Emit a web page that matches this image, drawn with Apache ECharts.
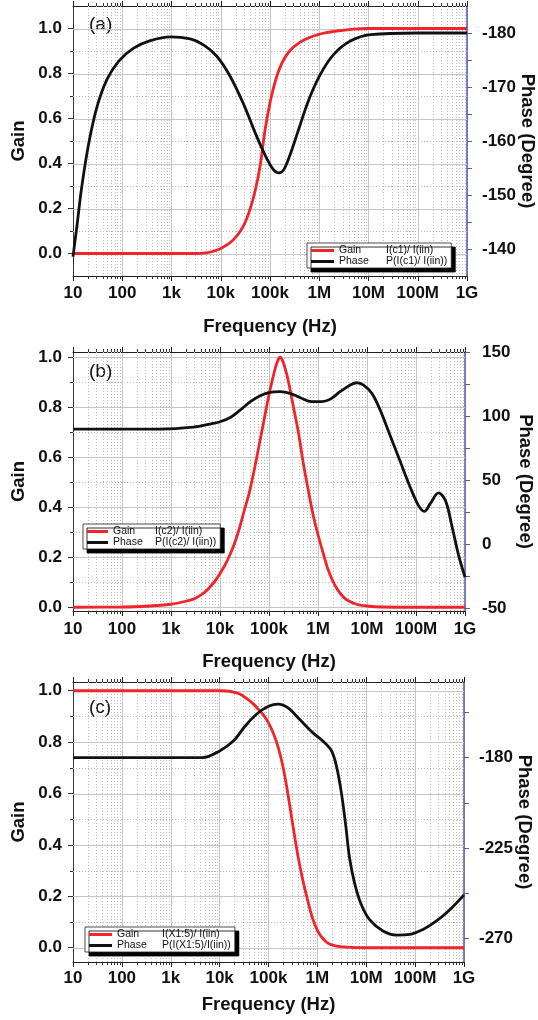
<!DOCTYPE html>
<html><head><meta charset="utf-8">
<script src="https://cdn.jsdelivr.net/npm/echarts@6/dist/echarts.min.js"></script>
<style>html,body{margin:0;padding:0;background:#fff}#c{width:538px;height:1020px}</style>
</head><body><div id="c"></div><script>
// ---- tick labels ----
const freqLabels = ['10','100','1k','10k','100k','1M','10M','100M','1G'];
const gainLabels = [0, 0.2, 0.4, 0.6, 0.8, 1.0];
const gainGrid = [0, 0.1, 0.2, 0.3, 0.4, 0.5, 0.6, 0.7, 0.8, 0.9, 1.0];
const phaseTicksA = [-180,-175,-170,-165,-160,-155,-150,-145,-140];
const phaseLabelsA = [-180,-170,-160,-150,-140];
const phaseTicksB = [-50,-25,0,25,50,75,100,125,150];
const phaseLabelsB = [-50,0,50,100,150];
const phaseTicksC = [-270,-247.5,-225,-202.5,-180,-157.5];
const phaseLabelsC = [-270,-225,-180];
const legendTextA = ['I(c1)/ I(iin)', 'P(I(c1)/ I(iin))'];
const legendTextB = ['I(c2)/ I(iin)', 'P(I(c2)/ I(iin))'];
const legendTextC = ['I(X1:5)/ I(iin)', 'P(I(X1:5)/I(iin))'];

// ---- panel (a) ----
const gainA_freq = [10, 1000, 3160, 5010, 7080, 1e4, 12600, 15800, 20000, 25100, 31600, 39800, 50100, 63100, 79400, 1e5, 126000, 158000, 200000, 251000, 316000, 501000, 794000, 1.26e6, 2.51e6, 5.01e6, 1e7, 1e9];
const gainA = [0, 0, 0, 0.003, 0.01, 0.022, 0.035, 0.05, 0.072, 0.1, 0.14, 0.2, 0.28, 0.39, 0.55, 0.67, 0.76, 0.825, 0.87, 0.9, 0.922, 0.95, 0.968, 0.98, 0.99, 0.997, 1.0, 1.0];
const phaseA_freq = [10, 12, 15.1, 20.9, 30.9, 49, 85, 170, 372, 955, 2400, 4470, 8320, 15500, 29500, 50100, 81300, 117500, 151400, 190500, 257000, 380200, 616600, 1.047e6, 1.95e6, 4.27e6, 1.1e7, 1e8, 1e9];
const phaseA = [-138.6, -144.2, -151.6, -159.6, -166.4, -171.4, -174.8, -177.2, -178.6, -179.3, -178.9, -177.8, -175.7, -172.0, -166.7, -161.5, -157.2, -154.7, -154.1, -154.7, -157.5, -162.1, -167.7, -172.3, -176.0, -178.5, -179.7, -180, -180];

// ---- panel (b) ----
const gainB_freq = [10, 100, 316, 1000, 2000, 3160, 5010, 7940, 1e4, 12600, 15800, 20000, 25100, 31600, 39800, 50100, 63100, 79400, 1e5, 126000, 141000, 158000, 170000, 186000, 214000, 251000, 316000, 398000, 501000, 631000, 794000, 1e6, 1.26e6, 1.58e6, 2e6, 2.51e6, 3.16e6, 3.98e6, 6.31e6, 1e7, 2e7, 1e8, 1e9];
const gainB = [0, 0.001, 0.004, 0.012, 0.024, 0.036, 0.062, 0.105, 0.135, 0.168, 0.208, 0.258, 0.318, 0.39, 0.46, 0.55, 0.65, 0.75, 0.85, 0.935, 0.97, 0.995, 1.0, 0.99, 0.955, 0.9, 0.8, 0.7, 0.576, 0.47, 0.37, 0.29, 0.22, 0.155, 0.105, 0.07, 0.045, 0.028, 0.011, 0.005, 0.001, 0, 0];
const phaseB_freq = [10, 600, 2880, 6310, 1e4, 16200, 25700, 41700, 66100, 104700, 169800, 269200, 436500, 741300, 1.2e6, 1.78e6, 2.82e6, 4.57e6, 6.17e6, 8.51e6, 1.26e7, 1.86e7, 2.95e7, 4.79e7, 7.59e7, 1.12e8, 1.48e8, 1.95e8, 2.88e8, 3.98e8, 5.37e8, 7.41e8, 1e9];
const phaseB = [90, 90, 91.5, 93.9, 95.7, 99.1, 104.8, 111.4, 116.1, 118.7, 119.2, 117.9, 114.5, 111.4, 111.4, 113.4, 119.2, 124.4, 126.2, 124.4, 117.9, 104.8, 85.2, 64.4, 44.8, 30.4, 25.7, 31.7, 40.1, 34.3, 14.8, -8.7, -25.7];

// ---- panel (c) ----
const gainC_freq = [10, 1e4, 15800, 25100, 35500, 50100, 63100, 79400, 1e5, 126000, 158000, 200000, 251000, 316000, 398000, 501000, 631000, 794000, 1e6, 1.26e6, 1.58e6, 2.24e6, 3.98e6, 1e7, 1e9];
const gainC = [1, 1, 0.998, 0.988, 0.97, 0.947, 0.926, 0.905, 0.875, 0.834, 0.78, 0.7, 0.595, 0.475, 0.36, 0.265, 0.185, 0.115, 0.068, 0.038, 0.02, 0.008, 0.002, 0, 0];
const phaseC_freq = [10, 4470, 1e4, 19050, 33100, 57500, 1e5, 158500, 251200, 436500, 812800, 1.41e6, 1.95e6, 2.45e6, 3.09e6, 3.8e6, 4.57e6, 5.89e6, 7.94e6, 1.17e7, 2.24e7, 4.17e7, 7.76e7, 1.45e8, 2.69e8, 5.13e8, 1e9];
const phaseC = [-180, -180, -176.7, -171.8, -164.4, -158.3, -154.5, -153.4, -155.3, -161.1, -167.7, -172.6, -176.7, -184.1, -197.3, -213.7, -230.2, -243.3, -253.2, -260.6, -266.4, -268.3, -268.0, -265.5, -261.4, -255.7, -248.3];

// minor decade gridline positions (2..9 x 10^k)
const minorFreqs = [];
for (let k = 1; k < 9; k++) for (let m = 2; m <= 9; m++) minorFreqs.push(m * Math.pow(10, k));

const FONT = 'Liberation Sans, Arial, sans-serif';
const RED = '#f0242a', BLACK = '#111111', BLUE = '#5a5ab6';
const F_MIN = 10, F_MAX = 1e9;

const panels = [
  {tag:'(a)', tagY:25, top:6, height:270, left:73, width:394, gMin:-0.1, gMax:1.1,
   pMin:-185, pMax:-135, pInv:true, pTicks:phaseTicksA, pLabels:phaseLabelsA,
   gF:gainA_freq, g:gainA, pF:phaseA_freq, p:phaseA, xMargin:9, xGap:41, rMargin:15,
   leg:{left:307, top:243, iw:23, nw:47, text:legendTextA}},
  {tag:'(b)', tagY:372, top:352, height:259, left:73, width:392, gMin:-0.015, gMax:1.021,
   pMin:-52.1, pMax:150.2, pInv:false, pTicks:phaseTicksB, pLabels:phaseLabelsB,
   gF:gainB_freq, g:gainB, pF:phaseB_freq, p:phaseB, xMargin:10, xGap:41, rMargin:17,
   leg:{left:83, top:524, iw:21, nw:42, text:legendTextB}},
  {tag:'(c)', tagY:708, top:682, height:280, left:73, width:391, gMin:-0.0555, gMax:1.034,
   pMin:-281.7, pMax:-142.4, pInv:false, pTicks:phaseTicksC, pLabels:phaseLabelsC,
   gF:gainC_freq, g:gainC, pF:phaseC_freq, p:phaseC, xMargin:8, xGap:33, rMargin:15,
   leg:{left:85, top:927, iw:23, nw:45, text:legendTextC}}
];

const grids = [], xAxes = [], yAxes = [], series = [], legends = [], graphics = [];

function vGridRender(params, api) {
  const cs = params.coordSys;
  const x = Math.round(api.coord([api.value(0), api.value(1)])[0]) + 0.5;
  const t = cs.y, b = cs.y + cs.height;
  return {type:'group', children:[
    {type:'line', shape:{x1:x, y1:t, x2:x, y2:b}, style:{stroke:'#bcbcbc', lineWidth:1, lineDash:[1,2]}},
    {type:'line', shape:{x1:x, y1:b, x2:x, y2:b+3}, style:{stroke:'#333', lineWidth:1}},
    {type:'line', shape:{x1:x, y1:t, x2:x, y2:t-3}, style:{stroke:'#333', lineWidth:1}}
  ]};
}
function hGridRender(params, api) {
  const cs = params.coordSys;
  const v = api.value(1);
  const y = Math.round(api.coord([api.value(0), v])[1]) + 0.5;
  const major = Math.abs(v * 5 - Math.round(v * 5)) < 1e-6;
  const ch = [];
  if (major) {
    ch.push({type:'line', shape:{x1:cs.x, y1:y, x2:cs.x+cs.width, y2:y}, style:{stroke:'#c6c6c6', lineWidth:1}});
  } else {
    ch.push({type:'line', shape:{x1:cs.x, y1:y, x2:cs.x+cs.width, y2:y}, style:{stroke:'#bcbcbc', lineWidth:1, lineDash:[1,2]}});
    ch.push({type:'line', shape:{x1:cs.x-3, y1:y, x2:cs.x, y2:y}, style:{stroke:'#333', lineWidth:1}});
  }
  return {type:'group', children:ch};
}

panels.forEach((P, i) => {
  grids.push({left:P.left, top:P.top, width:P.width, height:P.height, show:false, outerBoundsMode:'none', containLabel:false});
  xAxes.push({type:'log', logBase:10, gridIndex:i, position:'bottom', min:F_MIN, max:F_MAX, splitNumber:8,
    name:'Frequency (Hz)', nameLocation:'middle', nameGap:P.xGap, nameMoveOverlap:false,
    nameTextStyle:{fontFamily:FONT, fontSize:18.5, fontWeight:'bold', color:'#111'},
    axisLine:{show:true, onZero:false, lineStyle:{color:'#222', width:1}},
    axisTick:{show:true, inside:false, length:5, lineStyle:{color:'#222'}},
    axisLabel:{show:true, margin:P.xMargin, fontFamily:FONT, fontSize:17, fontWeight:'bold', color:'#111',
      formatter:(v) => freqLabels[Math.round(Math.log10(v)) - 1]},
    splitLine:{show:true, lineStyle:{color:'#c6c6c6', width:1}},
    minorTick:{show:false}, minorSplitLine:{show:false}});
  xAxes.push({type:'log', logBase:10, gridIndex:i, position:'top', min:F_MIN, max:F_MAX, splitNumber:8,
    axisLine:{show:true, onZero:false, lineStyle:{color:'#222', width:1}},
    axisTick:{show:true, inside:false, length:5, lineStyle:{color:'#222'}},
    axisLabel:{show:false}, splitLine:{show:false}});
  yAxes.push({type:'value', gridIndex:i, position:'left', min:P.gMin, max:P.gMax,
    name:'Gain', nameLocation:'middle', nameGap:45, nameMoveOverlap:false,
    nameTextStyle:{fontFamily:FONT, fontSize:18.5, fontWeight:'bold', color:'#111'},
    axisLine:{show:true, onZero:false, lineStyle:{color:'#333', width:1}},
    axisTick:{show:true, inside:false, length:5, customValues:gainLabels, lineStyle:{color:'#333'}},
    axisLabel:{show:true, margin:11, customValues:gainLabels, fontFamily:FONT, fontSize:17, fontWeight:'bold', color:'#111',
      formatter:(v) => v.toFixed(1)},
    splitLine:{show:false}});
  yAxes.push({type:'value', gridIndex:i, position:'right', min:P.pMin, max:P.pMax, inverse:P.pInv,
    name:'Phase (Degree)', nameLocation:'middle', nameGap:51, nameRotate:-90, nameMoveOverlap:false,
    nameTextStyle:{fontFamily:FONT, fontSize:18.5, fontWeight:'bold', color:'#111'},
    axisLine:{show:true, onZero:false, lineStyle:{color:BLUE, width:1.5}},
    axisTick:{show:true, inside:false, length:5, customValues:P.pTicks, lineStyle:{color:BLUE}},
    axisLabel:{show:true, margin:P.rMargin, customValues:P.pLabels, fontFamily:FONT, fontSize:17, fontWeight:'bold', color:'#111',
      formatter:(v) => String(v)},
    splitLine:{show:false}});

  const xb = 2 * i, yg = 2 * i, yp = 2 * i + 1;
  series.push({type:'custom', name:'vgrid'+i, xAxisIndex:xb, yAxisIndex:yg, silent:true, clip:false, z:1,
    renderItem:vGridRender, data:minorFreqs.map(f => [f, 0])});
  series.push({type:'custom', name:'hgrid'+i, xAxisIndex:xb, yAxisIndex:yg, silent:true, clip:false, z:1,
    renderItem:hGridRender, data:gainGrid.map(v => [F_MIN, v])});
  series.push({type:'line', name:'Gain', xAxisIndex:xb, yAxisIndex:yg, showSymbol:false, smooth:0.3,
    lineStyle:{color:RED, width:2.8}, itemStyle:{color:RED}, z:3,
    data:P.gF.map((f, k) => [f, P.g[k]])});
  series.push({type:'line', name:'Phase', xAxisIndex:xb, yAxisIndex:yp, showSymbol:false, smooth:0.35,
    lineStyle:{color:BLACK, width:2.8}, itemStyle:{color:BLACK}, z:4,
    data:P.pF.map((f, k) => [f, P.p[k]])});

  const L = P.leg;
  legends.push({data:['Gain','Phase'], orient:'vertical', left:L.left, top:L.top, icon:'rect',
    itemWidth:L.iw, itemHeight:3, itemGap:0, padding:[2,4,1,4], selectedMode:false,
    backgroundColor:'#fff', borderColor:'#222', borderWidth:0.8,
    shadowColor:'#000', shadowBlur:0.01, shadowOffsetX:4, shadowOffsetY:4,
    textStyle:{fontFamily:FONT, fontSize:10.5, color:'#111', lineHeight:11,
      rich:{n:{width:L.nw, fontFamily:FONT, fontSize:10.5, color:'#111'}, f:{fontFamily:FONT, fontSize:10.5, color:'#111'}}},
    formatter:(name) => name === 'Gain' ? '{n|Gain}{f|' + L.text[0] + '}' : '{n|Phase}{f|' + L.text[1] + '}'});

  graphics.push({type:'text', x:89, y:P.tagY, silent:true,
    style:{text:P.tag, fontFamily:FONT, fontSize:19, fill:'#111', align:'left', verticalAlign:'middle'}});
});

const chart = echarts.init(document.getElementById('c'), null, {renderer:'canvas'});
chart.setOption({
  animation:false, backgroundColor:'#fff',
  grid:grids, xAxis:xAxes, yAxis:yAxes, series:series, legend:legends, graphic:graphics
});
</script></body></html>
